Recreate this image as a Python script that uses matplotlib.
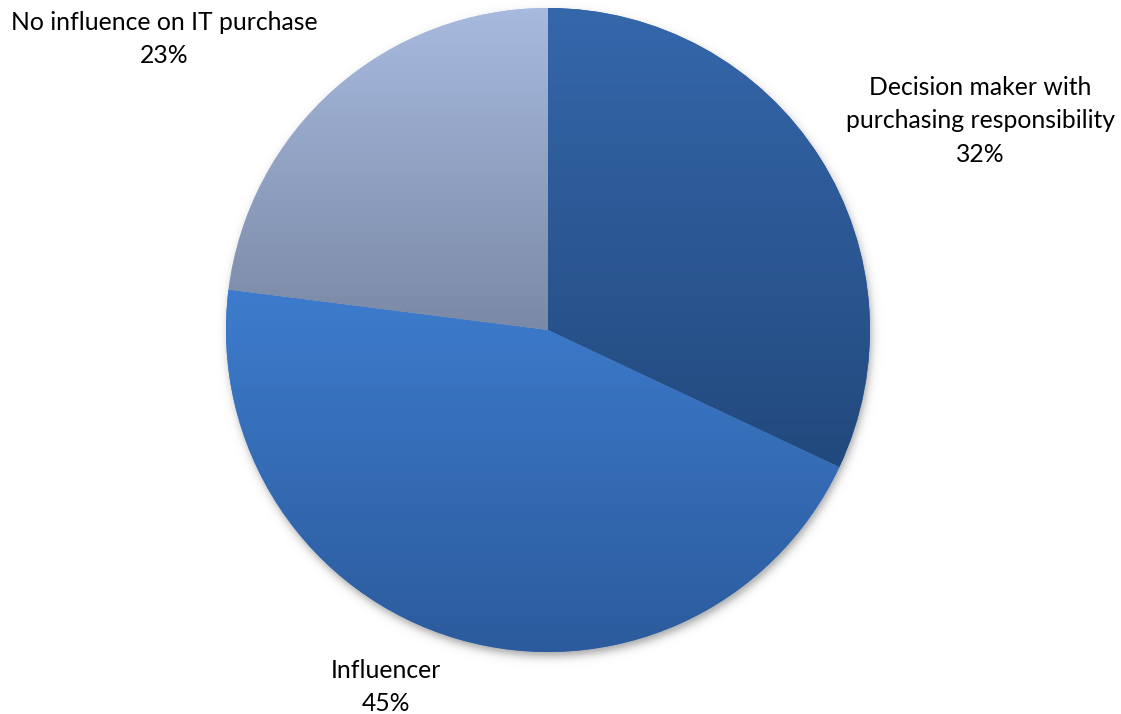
import numpy as np
import matplotlib
matplotlib.use("Agg")
import matplotlib.pyplot as plt
from matplotlib.colors import LinearSegmentedColormap

# Data
labels = ["Decision maker with\npurchasing responsibility", "Influencer", "No influence on IT purchase"]
shares = [32, 45, 23]
# (top colour, bottom colour) of each slice's vertical gradient
grad_colors = [("#3567AB", "#22497D"), ("#3D7CCD", "#2B5A9B"), ("#A7BADF", "#7A89A5")]

W, H = 1121, 714
cx, cy, r = 548, 384, 322  # pixel centre (from bottom) and radius

plt.rcParams["font.family"] = ["Lato", "DejaVu Sans"]

fig = plt.figure(figsize=(W / 100, H / 100), dpi=100)
fig.patch.set_facecolor("white")
ax = fig.add_axes([(cx - r) / W, (cy - r) / H, 2 * r / W, 2 * r / H])
ax.set_xlim(-1, 1)
ax.set_ylim(-1, 1)
ax.axis("off")

# soft drop shadow under the pie
n = 400
g = np.linspace(-1.1, 1.1, n)
X, Y = np.meshgrid(g, g)
d = np.sqrt((X - 0.004) ** 2 + (Y + 0.016) ** 2)
soft = 1.0 / (1.0 + np.exp((d - 1.0) / 0.008))
shadow = np.zeros((n, n, 4))
shadow[..., 0:3] = 0.35
shadow[..., 3] = soft * 0.55
ax.imshow(shadow, extent=(-1.1, 1.1, -1.1, 1.1), origin="lower", zorder=0,
          interpolation="bilinear", clip_on=False)

wedges, _ = ax.pie(shares, startangle=90, counterclock=False, radius=1,
                   colors=[c[0] for c in grad_colors],
                   wedgeprops=dict(linewidth=0))

for w, (top, bot) in zip(wedges, grad_colors):
    w.set_zorder(1)
    vy = w.get_path().vertices[:, 1]
    y0, y1 = vy.min(), vy.max()
    cmap = LinearSegmentedColormap.from_list("g", [bot, top])
    grad = np.linspace(0, 1, 256).reshape(-1, 1)
    im = ax.imshow(grad, cmap=cmap, extent=(-1, 1, y0, y1), origin="lower",
                   aspect="auto", zorder=2, interpolation="bilinear")
    im.set_clip_path(w)

ax.set_xlim(-1, 1)
ax.set_ylim(-1, 1)

# labels
fs = 17.8
ls = 1.55
fig.text(980 / W, 1 - 121 / H, labels[0] + "\n32%", ha="center", va="center",
         fontsize=fs, linespacing=ls, color="#000000")
fig.text(386 / W, 1 - 687 / H, labels[1] + "\n45%", ha="center", va="center",
         fontsize=fs, linespacing=ls, color="#000000")
fig.text(164 / W, 1 - 39 / H, labels[2] + "\n23%", ha="center", va="center",
         fontsize=fs, linespacing=ls, color="#000000")

fig.savefig("out.png", dpi=100, facecolor="white")
